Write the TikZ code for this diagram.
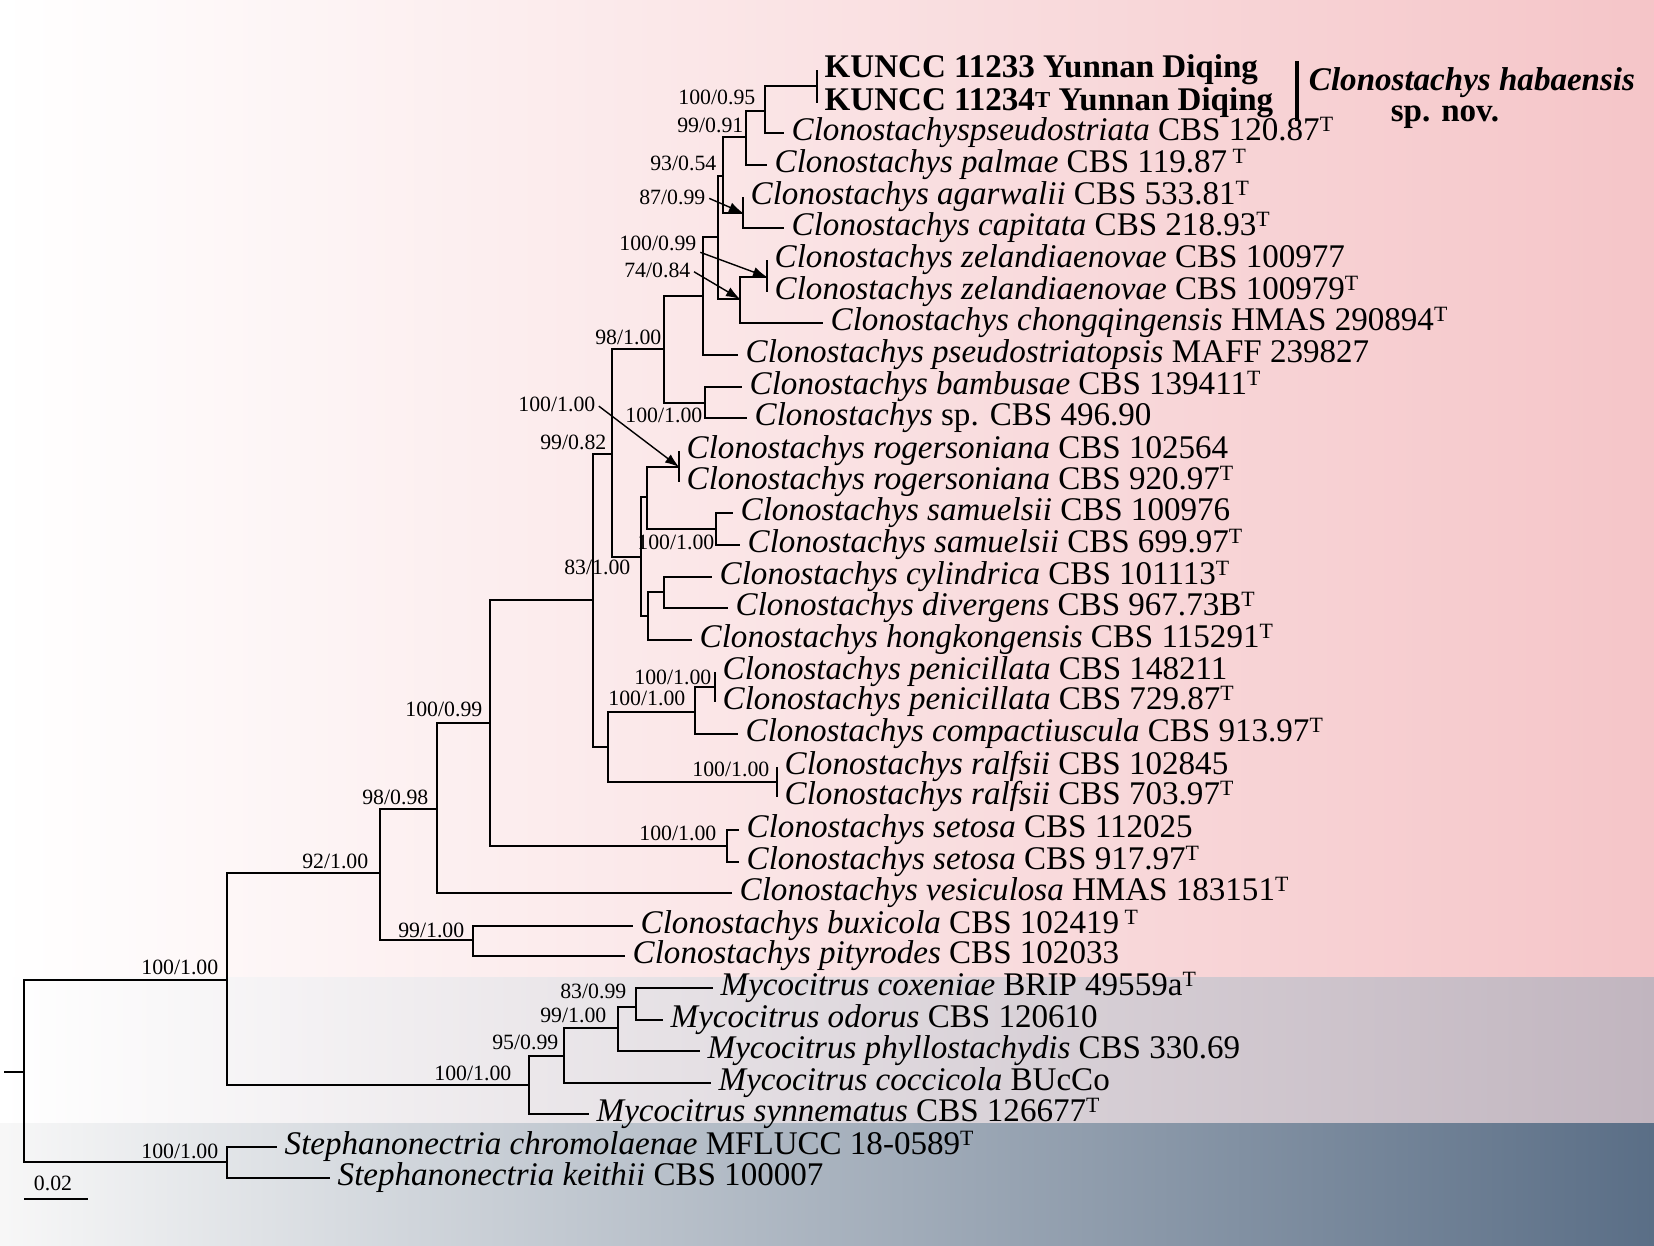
\documentclass[tikz,border=0pt]{standalone}
\usepackage{fontspec}
\setmainfont{Liberation Serif}
\usetikzlibrary{arrows.meta}

\definecolor{cladepink}{HTML}{F5C5C8}
\definecolor{outgrey}{HTML}{C1B5BF}
\definecolor{slateband}{HTML}{5A6E86}
\newcommand{\typeT}{\raisebox{0.28em}{\fontsize{6.2}{7}\selectfont T}}

\begin{document}
\begin{tikzpicture}[x=0.01cm, y=-0.01cm,
  branch/.style={line width=0.45pt, black},
  taxon/.style={anchor=west, inner xsep=2pt, inner ysep=0pt,
                font=\fontsize{9.4}{11}\selectfont, text height=6.4pt, text depth=2pt},
  bs/.style={anchor=east, inner sep=0pt, font=\fontsize{6.2}{7}\selectfont},
  bsarrow/.style={-{Latex[length=1.4mm, width=1mm]}, line width=0.4pt, shorten <=1pt}
]
\useasboundingbox (0,0) rectangle (1654,1246);

% background bands
\shade[left color=white, right color=cladepink] (0,0) rectangle (1654,977);
\shade[left color=white, right color=outgrey] (0,977) rectangle (1654,1123);
\shade[left color=white!97!black, right color=slateband] (0,1123) rectangle (1654,1246);

% internal nodes
\coordinate (rootstub) at (4,1072);
\coordinate (root) at (24,1072);
\coordinate (nA) at (227,980);
\coordinate (nSteph) at (227,1162);
\coordinate (n92) at (380,873);
\coordinate (nMyco) at (529,1085);
\coordinate (n9599) at (564,1056);
\coordinate (n99100m) at (618,1028);
\coordinate (n8399) at (636,1007);
\coordinate (n98098) at (437,809);
\coordinate (nBux) at (473,940);
\coordinate (n10099) at (490,723);
\coordinate (nSet) at (727,846);
\coordinate (n83) at (593,600);
\coordinate (n9982) at (612,454);
\coordinate (nLow) at (608,747);
\coordinate (nPenComp) at (695,712);
\coordinate (nPen) at (715,687);
\coordinate (nRalf) at (777,782);
\coordinate (n98100) at (664,349);
\coordinate (nMid) at (641,557);
\coordinate (nRogSam) at (647,497);
\coordinate (nRog) at (679,467);
\coordinate (nSam) at (716,529);
\coordinate (nHong) at (648,616);
\coordinate (nCylDiv) at (664,592);
\coordinate (nPsop) at (703,296);
\coordinate (nBam) at (705,403);
\coordinate (nUp) at (718,237);
\coordinate (n7484) at (740,299);
\coordinate (nZel) at (767,277);
\coordinate (n9354) at (723,176);
\coordinate (n9991) at (746,137);
\coordinate (n10095) at (765,111);
\coordinate (nKun) at (817,86);
\coordinate (nAgCap) at (743,213);

% taxa
\node[taxon] (t01) at (817,70) {\bfseries KUNCC 11233 Yunnan Diqing};
\node[taxon] (t02) at (817,103) {\bfseries KUNCC 11234{\fontsize{6.5}{7}\selectfont\raisebox{0.15em}{T}} Yunnan Diqing};
\node[taxon] (t03) at (784,133) {\textit{Clonostachyspseudostriata} CBS 120.87\typeT};
\node[taxon] (t04) at (767,165) {\textit{Clonostachys palmae} CBS 119.87\,\typeT};
\node[taxon] (t05) at (743,197) {\textit{Clonostachys agarwalii} CBS 533.81\typeT};
\node[taxon] (t06) at (784,228) {\textit{Clonostachys capitata} CBS 218.93\typeT};
\node[taxon] (t07) at (767,260) {\textit{Clonostachys zelandiaenovae} CBS 100977};
\node[taxon] (t08) at (767,292) {\textit{Clonostachys zelandiaenovae} CBS 100979\typeT};
\node[taxon] (t09) at (823,323) {\textit{Clonostachys chongqingensis} HMAS 290894\typeT};
\node[taxon] (t10) at (738,355) {\textit{Clonostachys pseudostriatopsis} MAFF 239827};
\node[taxon] (t11) at (742,387) {\textit{Clonostachys bambusae} CBS 139411\typeT};
\node[taxon] (t12) at (747,418) {\textit{Clonostachys} sp. CBS 496.90};
\node[taxon] (t13) at (679,451) {\textit{Clonostachys rogersoniana} CBS 102564};
\node[taxon] (t14) at (679,482) {\textit{Clonostachys rogersoniana} CBS 920.97\typeT};
\node[taxon] (t15) at (733,513) {\textit{Clonostachys samuelsii} CBS 100976};
\node[taxon] (t16) at (740,545) {\textit{Clonostachys samuelsii} CBS 699.97\typeT};
\node[taxon] (t17) at (712,577) {\textit{Clonostachys cylindrica} CBS 101113\typeT};
\node[taxon] (t18) at (728,608) {\textit{Clonostachys divergens} CBS 967.73B\typeT};
\node[taxon] (t19) at (692,640) {\textit{Clonostachys hongkongensis} CBS 115291\typeT};
\node[taxon] (t20) at (715,672) {\textit{Clonostachys penicillata} CBS 148211};
\node[taxon] (t21) at (715,702) {\textit{Clonostachys penicillata} CBS 729.87\typeT};
\node[taxon] (t22) at (738,734) {\textit{Clonostachys compactiuscula} CBS 913.97\typeT};
\node[taxon] (t23) at (777,767) {\textit{Clonostachys ralfsii} CBS 102845};
\node[taxon] (t24) at (777,797) {\textit{Clonostachys ralfsii} CBS 703.97\typeT};
\node[taxon] (t25) at (739,830) {\textit{Clonostachys setosa} CBS 112025};
\node[taxon] (t26) at (739,862) {\textit{Clonostachys setosa} CBS 917.97\typeT};
\node[taxon] (t27) at (732,893) {\textit{Clonostachys vesiculosa} HMAS 183151\typeT};
\node[taxon] (t28) at (633,926) {\textit{Clonostachys buxicola} CBS 102419\,\typeT};
\node[taxon] (t29) at (625,956) {\textit{Clonostachys pityrodes} CBS 102033};
\node[taxon] (t30) at (713,988) {\textit{Mycocitrus coxeniae} BRIP 49559a\typeT};
\node[taxon] (t31) at (663,1020) {\textit{Mycocitrus odorus} CBS 120610};
\node[taxon] (t32) at (700,1051) {\textit{Mycocitrus phyllostachydis} CBS 330.69};
\node[taxon] (t33) at (711,1083) {\textit{Mycocitrus coccicola} BUcCo};
\node[taxon] (t34) at (589,1114) {\textit{Mycocitrus synnematus} CBS 126677\typeT};
\node[taxon] (t35) at (277,1147) {\textit{Stephanonectria chromolaenae} MFLUCC 18-0589\typeT};
\node[taxon] (t36) at (330,1178) {\textit{Stephanonectria keithii} CBS 100007};

% branches
\draw[branch] (rootstub) -- (root);
\draw[branch] (root) |- (nA);  \draw[branch] (root) |- (nSteph);
\draw[branch] (nSteph) |- (t35.west);  \draw[branch] (nSteph) |- (t36.west);
\draw[branch] (nA) |- (n92);  \draw[branch] (nA) |- (nMyco);
\draw[branch] (nMyco) |- (n9599);  \draw[branch] (nMyco) |- (t34.west);
\draw[branch] (n9599) |- (n99100m);  \draw[branch] (n9599) |- (t33.west);
\draw[branch] (n99100m) |- (n8399);  \draw[branch] (n99100m) |- (t32.west);
\draw[branch] (n8399) |- (t30.west);  \draw[branch] (n8399) |- (t31.west);
\draw[branch] (n92) |- (n98098);  \draw[branch] (n92) |- (nBux);
\draw[branch] (nBux) |- (t28.west);  \draw[branch] (nBux) |- (t29.west);
\draw[branch] (n98098) |- (n10099);  \draw[branch] (n98098) |- (t27.west);
\draw[branch] (n10099) |- (n83);  \draw[branch] (n10099) |- (nSet);
\draw[branch] (nSet) |- (t25.west);  \draw[branch] (nSet) |- (t26.west);
\draw[branch] (n83) |- (n9982);  \draw[branch] (n83) |- (nLow);
\draw[branch] (nLow) |- (nPenComp);  \draw[branch] (nLow) |- (nRalf);
\draw[branch] (nRalf) |- (t23.west);  \draw[branch] (nRalf) |- (t24.west);
\draw[branch] (nPenComp) |- (nPen);  \draw[branch] (nPenComp) |- (t22.west);
\draw[branch] (nPen) |- (t20.west);  \draw[branch] (nPen) |- (t21.west);
\draw[branch] (n9982) |- (n98100);  \draw[branch] (n9982) |- (nMid);
\draw[branch] (nMid) |- (nRogSam);  \draw[branch] (nMid) |- (nHong);
\draw[branch] (nHong) |- (nCylDiv);  \draw[branch] (nHong) |- (t19.west);
\draw[branch] (nCylDiv) |- (t17.west);  \draw[branch] (nCylDiv) |- (t18.west);
\draw[branch] (nRogSam) |- (nRog);  \draw[branch] (nRogSam) |- (nSam);
\draw[branch] (nRog) |- (t13.west);  \draw[branch] (nRog) |- (t14.west);
\draw[branch] (nSam) |- (t15.west);  \draw[branch] (nSam) |- (t16.west);
\draw[branch] (n98100) |- (nPsop);  \draw[branch] (n98100) |- (nBam);
\draw[branch] (nBam) |- (t11.west);  \draw[branch] (nBam) |- (t12.west);
\draw[branch] (nPsop) |- (nUp);  \draw[branch] (nPsop) |- (t10.west);
\draw[branch] (nUp) |- (n9354);  \draw[branch] (nUp) |- (n7484);
\draw[branch] (n7484) |- (nZel);  \draw[branch] (n7484) |- (t09.west);
\draw[branch] (nZel) |- (t07.west);  \draw[branch] (nZel) |- (t08.west);
\draw[branch] (n9354) |- (n9991);  \draw[branch] (n9354) |- (nAgCap);
\draw[branch] (nAgCap) |- (t05.west);  \draw[branch] (nAgCap) |- (t06.west);
\draw[branch] (n9991) |- (n10095);  \draw[branch] (n9991) |- (t04.west);
\draw[branch] (n10095) |- (nKun);  \draw[branch] (n10095) |- (t03.west);
\draw[branch] (nKun) |- (t01.west);  \draw[branch] (nKun) |- (t02.west);

% support values
\node[bs] (s10095) at (756,97) {100/0.95};
\node[bs] (s9991) at (744,125) {99/0.91};
\node[bs] (s9354) at (717,163) {93/0.54};
\node[bs] (s8799) at (706,197) {87/0.99};
\node[bs] (s10099z) at (697,243) {100/0.99};
\node[bs] (s7484) at (691,270) {74/0.84};
\node[bs] (s98100) at (662,337) {98/1.00};
\node[bs] (sBam) at (703,415) {100/1.00};
\node[bs] (sRog) at (596,404) {100/1.00};
\node[bs] (s9982) at (607,442) {99/0.82};
\node[bs] (sSam) at (715,542) {100/1.00};
\node[bs] (s83) at (631,567) {83/1.00};
\node[bs] (sPen) at (712,677) {100/1.00};
\node[bs] (sPenComp) at (686,698) {100/1.00};
\node[bs] (sRalf) at (770,769) {100/1.00};
\node[bs] (s10099) at (483,709) {100/0.99};
\node[bs] (sSet) at (717,833) {100/1.00};
\node[bs] (s98098) at (429,797) {98/0.98};
\node[bs] (sBux) at (465,930) {99/1.00};
\node[bs] (s92) at (369,861) {92/1.00};
\node[bs] (sA) at (219,967) {100/1.00};
\node[bs] (sSteph) at (219,1151) {100/1.00};
\node[bs] (sMyco) at (512,1073) {100/1.00};
\node[bs] (s9599) at (559,1042) {95/0.99};
\node[bs] (s99100m) at (607,1015) {99/1.00};
\node[bs] (s8399) at (627,991) {83/0.99};

\draw[bsarrow] (s8799.east) -- (nAgCap);
\draw[bsarrow] (s10099z.south east) -- (nZel);
\draw[bsarrow] (s7484.east) -- (n7484);
\draw[bsarrow] (sRog.east) -- (nRog);

% new species
\coordinate (barTop) at (1297,61);
\coordinate (barBot) at (1297,121);
\draw[line width=1.2pt] (barTop) -- (barBot);
\node[font=\fontsize{9.4}{11}\selectfont\bfseries\itshape, inner sep=0pt] (spname) at (1472,83) {Clonostachys habaensis};
\node[font=\fontsize{9.4}{11}\selectfont\bfseries, inner sep=0pt] (spnov) at (1445,117) {sp. nov.};

% scale bar
\coordinate (scaleL) at (24,1199);
\coordinate (scaleR) at (88,1199);
\draw[branch] (scaleL) -- (scaleR);
\node[font=\fontsize{6.2}{7}\selectfont, inner sep=0pt] (scalelbl) at (53,1183) {0.02};
\end{tikzpicture}
\end{document}
